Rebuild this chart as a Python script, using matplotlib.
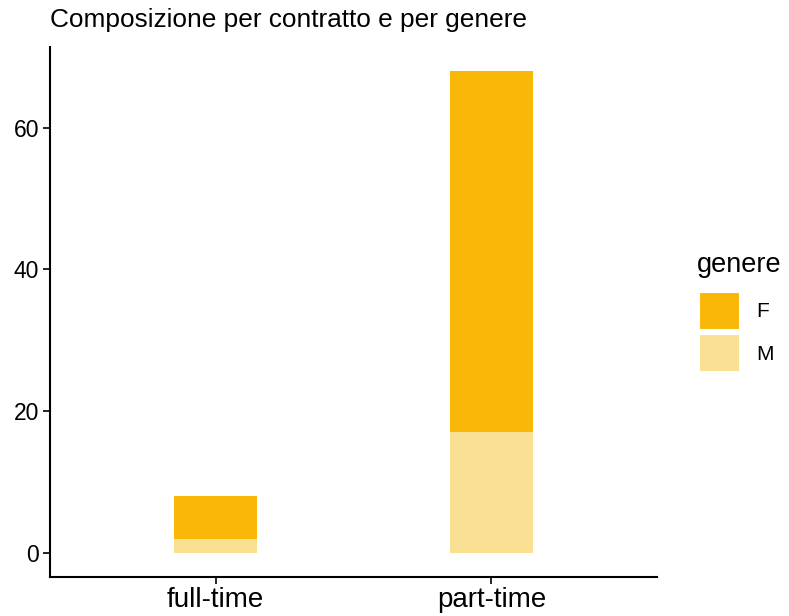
import numpy as np
import matplotlib.pyplot as plt
from matplotlib.patches import Patch

plt.rcParams['font.family'] = ['Liberation Sans', 'DejaVu Sans']

# data
contratti = ['full-time', 'part-time']
genere_m = [2, 17]
genere_f = [6, 51]
y_ticks = [0, 20, 40, 60]

col_f = '#F9B807'
col_m = '#FAE092'

fig = plt.figure(figsize=(7.89, 6.16), dpi=100)
ax = fig.add_axes([0.0634, 0.0633, 0.7693, 0.8604])

x = np.arange(1, len(contratti) + 1)
ax.bar(x, genere_m, width=0.3, color=col_m, linewidth=0)
ax.bar(x, genere_f, width=0.3, bottom=genere_m, color=col_f, linewidth=0)

tot = np.array(genere_m) + np.array(genere_f)
ax.set_xlim(0.4, 2.6)
ax.set_ylim(-0.05 * tot.max(), tot.max() * 1.05)
ax.set_xticks(x)
ax.set_xticklabels(contratti, fontsize=20)
ax.set_yticks(y_ticks)
ax.tick_params(axis='y', labelsize=16.5, length=5, width=1.2, color='black',
               pad=3)
ax.tick_params(axis='x', length=5, width=1.2, color='black', pad=2)
for s in ['top', 'right']:
    ax.spines[s].set_visible(False)
for s in ['left', 'bottom']:
    ax.spines[s].set_linewidth(1.5)

fig.text(0.063, 0.967, 'Composizione per contratto e per genere',
         fontsize=18.9, va='center', ha='left')

# legend title drawn separately so it sits like the ggplot guide
fig.text(0.8834, 0.5698, 'genere', fontsize=19.5, va='center', ha='left')
handles = [Patch(facecolor=col_f, edgecolor='white', linewidth=1.5, label='F'),
           Patch(facecolor=col_m, edgecolor='white', linewidth=1.5, label='M')]
leg = fig.legend(handles=handles, loc='upper left',
                 bbox_to_anchor=(0.886, 0.526), frameon=False, fontsize=15,
                 handlelength=1.95, handleheight=2.43,
                 labelspacing=0.2, handletextpad=0.8, borderpad=0,
                 borderaxespad=0)

fig.savefig('out.png', dpi=100)
